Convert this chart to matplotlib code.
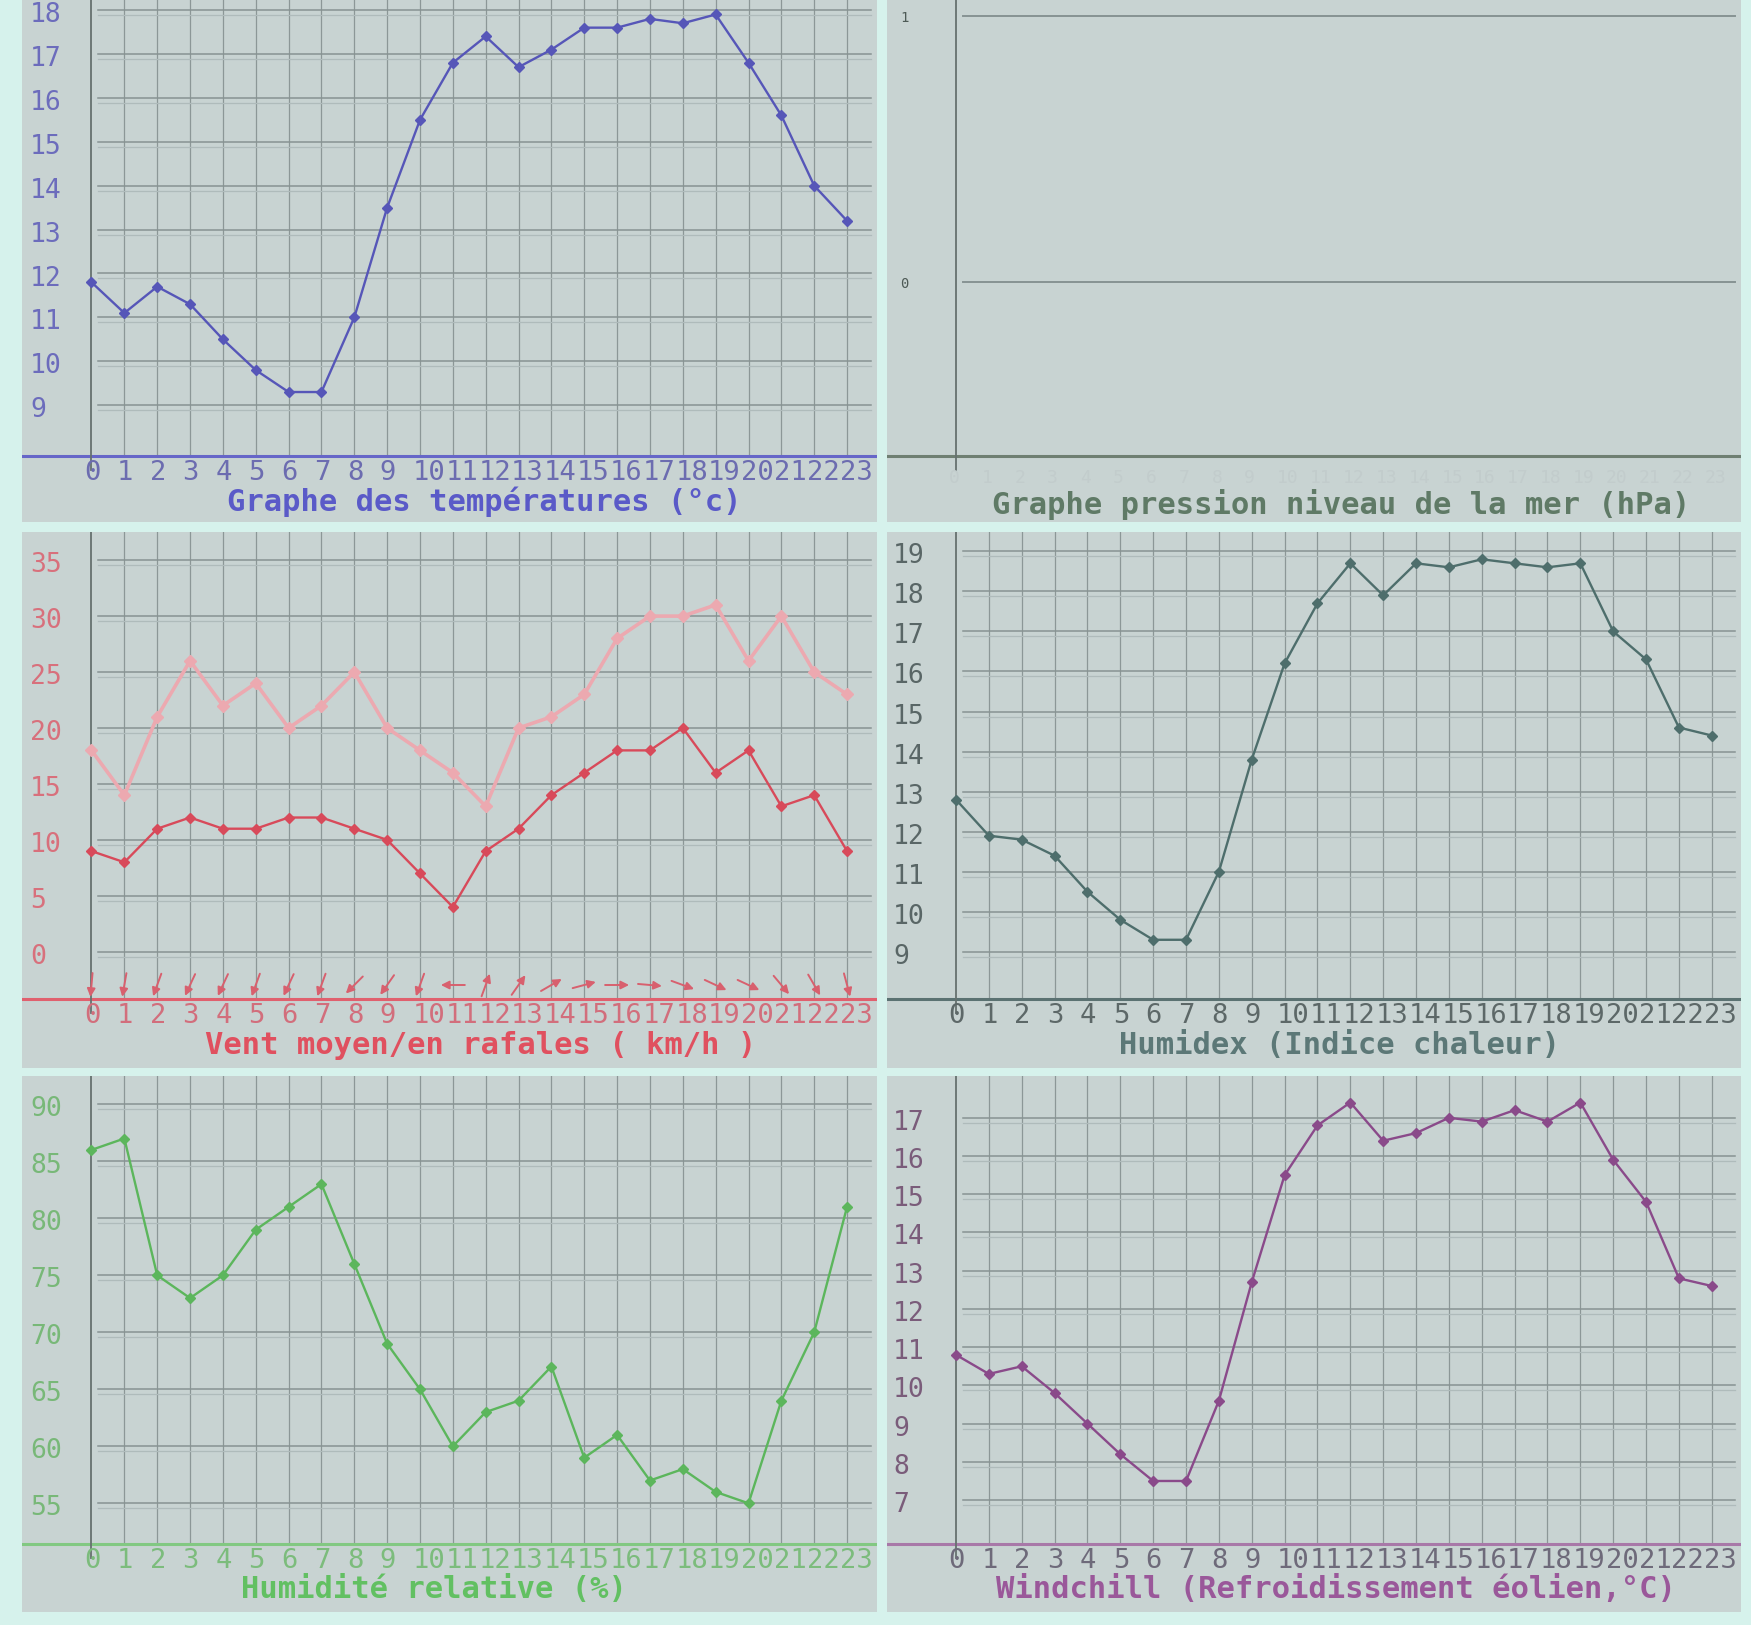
import math
import matplotlib
matplotlib.use("Agg")
import matplotlib.pyplot as plt
from matplotlib import transforms

# ---------------- data ----------------
hours = list(range(24))
hour_labels = [str(h) for h in hours]

temperature = [11.8, 11.1, 11.7, 11.3, 10.5, 9.8, 9.3, 9.3, 11.0, 13.5, 15.5, 16.8,
               17.4, 16.7, 17.1, 17.6, 17.6, 17.8, 17.7, 17.9, 16.8, 15.6, 14.0, 13.2]
temp_ticks = [9, 10, 11, 12, 13, 14, 15, 16, 17, 18]

pressure = []          # no pressure data in the source chart
pressure_ticks = [0, 1]

wind_mean = [9, 8, 11, 12, 11, 11, 12, 12, 11, 10, 7, 4,
             9, 11, 14, 16, 18, 18, 20, 16, 18, 13, 14, 9]
wind_gust = [18, 14, 21, 26, 22, 24, 20, 22, 25, 20, 18, 16,
             13, 20, 21, 23, 28, 30, 30, 31, 26, 30, 25, 23]
# direction the wind arrow points (degrees, 0 = east, 90 = north)
wind_dir = [-95, -100, -110, -115, -115, -110, -115, -110, -135, -125, -110, 180,
            70, 55, 30, 15, 0, -5, -20, -25, -25, -50, -60, -75]
wind_ticks = [0, 5, 10, 15, 20, 25, 30, 35]

humidex = [12.8, 11.9, 11.8, 11.4, 10.5, 9.8, 9.3, 9.3, 11.0, 13.8, 16.2, 17.7,
           18.7, 17.9, 18.7, 18.6, 18.8, 18.7, 18.6, 18.7, 17.0, 16.3, 14.6, 14.4]
humidex_ticks = [9, 10, 11, 12, 13, 14, 15, 16, 17, 18, 19]

humidity = [86, 87, 75, 73, 75, 79, 81, 83, 76, 69, 65, 60,
            63, 64, 67, 59, 61, 57, 58, 56, 55, 64, 70, 81]
humidity_ticks = [55, 60, 65, 70, 75, 80, 85, 90]

windchill = [10.8, 10.3, 10.5, 9.8, 9.0, 8.2, 7.5, 7.5, 9.6, 12.7, 15.5, 16.8,
             17.4, 16.4, 16.6, 17.0, 16.9, 17.2, 16.9, 17.4, 15.9, 14.8, 12.8, 12.6]
windchill_ticks = [7, 8, 9, 10, 11, 12, 13, 14, 15, 16, 17]

# ---------------- styling ----------------
W, H = 1751, 1625
FIG_BG = "#d6f2ec"
PANEL_BG = "#c8d3d2"
VGRID = "#8c9797"
HGRID = "#879393"
HGRID2 = "#afbbbb"
FONT = "DejaVu Sans Mono"
plt.rcParams["font.family"] = FONT

fig = plt.figure(figsize=(W / 100, H / 100), dpi=100)
fig.patch.set_facecolor(FIG_BG)


def make_panel(box, x0, xpp, vref, vref_px, ppu):
    l, t, r, b = box
    ax = fig.add_axes([l / W, 1 - b / H, (r - l) / W, (b - t) / H])
    ax.set_facecolor(PANEL_BG)
    for s in ax.spines.values():
        s.set_visible(False)
    ax.set_xticks([])
    ax.set_yticks([])
    ax.set_xlim((l - x0) / xpp, (r - x0) / xpp)
    ax.set_ylim(vref - (b - vref_px) / ppu, vref - (t - vref_px) / ppu)
    X = lambda px: (px - x0) / xpp
    Y = lambda py: vref - (py - vref_px) / ppu
    P = lambda v: vref_px - (v - vref) * ppu
    return ax, X, Y, P


def decorate(ax, X, Y, P, box, x0, axis_px, ticks, tick_color, hour_color,
             axis_color, title, title_color, title_cx, ylab_x, vgrid=True,
             ylab_size=19, ylab_dy=5, hgrid_start=7):
    l, t, r, b = box
    if vgrid:
        for h in hours[1:]:
            ax.plot([h, h], [Y(axis_px), Y(t)], color=VGRID, lw=0.9, zorder=1)
    for v in ticks:
        ax.plot([X(x0 + hgrid_start), X(r - 6)], [v, v], color=HGRID, lw=1.1, zorder=1)
        ax.plot([X(x0 + hgrid_start), X(r - 6)], [Y(P(v) + 5)] * 2, color=HGRID2,
                lw=0.9, zorder=1)
        ax.text(X(ylab_x), Y(P(v) + ylab_dy), str(v), ha="left", va="center",
                fontsize=ylab_size, color=tick_color, zorder=3)
    # axes lines
    ax.plot([X(l), X(r)], [Y(axis_px)] * 2, color=axis_color, lw=2.2, zorder=2)
    ax.plot([0, 0], [Y(t), Y(axis_px + 14)], color="#66716f", lw=1.3, zorder=2)
    off = transforms.offset_copy(ax.transData, fig=fig, x=-7.5, y=0, units="dots")
    for h, lab in zip(hours, hour_labels):
        ax.text(h, Y(axis_px + 17), lab, ha="left", va="center", fontsize=19.5,
                color=hour_color, transform=off, zorder=3)
    ax.text(X(title_cx), Y(axis_px + 46), title, ha="center", va="center",
            fontsize=22, fontweight="bold", color=title_color, zorder=3)


MK = dict(marker="D", markersize=5.5)

# ---- temperatures (top left) ----
box = (22, 0, 877, 522)
ax, X, Y, P = make_panel(box, 91.5, 32.85, 18, 10.1, 43.9)
decorate(ax, X, Y, P, box, 91.5, 456, temp_ticks, "#6c6cbc", "#6c6cb0", "#6666c8",
         "Graphe des températures (°c)", "#5a5ac8", 484, 30)
ax.plot(hours, temperature, color="#5656b8", lw=1.7, zorder=4, **MK)

# ---- pressure (top right) ----
box = (887, 0, 1741, 522)
ax, X, Y, P = make_panel(box, 956, 32.86, 1, 16, 266)
l, t, r, b = box
for v in pressure_ticks:
    ax.plot([X(956 + 7), X(r - 6)], [v, v], color=HGRID, lw=1.4, zorder=1)
    ax.text(X(900), Y(P(v) + 2), str(v), ha="left", va="center", fontsize=10,
            color="#4e5a56", zorder=3)
ax.plot([X(l), X(r)], [Y(456)] * 2, color="#6f7f72", lw=2.2, zorder=2)
ax.plot([0, 0], [Y(t), Y(470)], color="#66716f", lw=1.3, zorder=2)
off = transforms.offset_copy(ax.transData, fig=fig, x=-7.5, y=0, units="dots")
for h, lab in zip(hours, hour_labels):
    ax.text(h, Y(478), lab, ha="left", va="center", fontsize=13, color="#c2cccc",
            transform=off, zorder=3)
ax.text(X(1341), Y(504), "Graphe pression niveau de la mer (hPa)", ha="center",
        va="center", fontsize=22, fontweight="bold", color="#5f7a66", zorder=3)
if pressure:
    ax.plot(hours[:len(pressure)], pressure, color="#5f7a66", lw=1.7, **MK)

# ---- wind (middle left) ----
box = (22, 532, 877, 1068)
ax, X, Y, P = make_panel(box, 91.5, 32.85, 0, 951.8, 11.19)
decorate(ax, X, Y, P, box, 91.5, 999, wind_ticks, "#d8707c", "#d26e7c", "#e0606e",
         "Vent moyen/en rafales ( km/h )", "#e0505f", 481, 30)
ax.plot(hours, wind_gust, color="#eca9b0", lw=2.6, zorder=4, marker="D",
        markersize=6, markeredgecolor="#eca9b0")
ax.plot(hours, wind_mean, color="#d84a5a", lw=1.7, zorder=5, **MK)
L = 24.0
for h, a in zip(hours, wind_dir):
    dxp = L / 2 * math.cos(math.radians(a))
    dyp = L / 2 * math.sin(math.radians(a))
    yc = Y(985)
    ax.annotate("", xy=(h + dxp / 32.85, yc + dyp / 11.19),
                xytext=(h - dxp / 32.85, yc - dyp / 11.19),
                arrowprops=dict(arrowstyle="-|>", color="#d8606e", lw=1.4,
                                mutation_scale=12, shrinkA=0, shrinkB=0), zorder=4)

# ---- humidex (middle right) ----
box = (887, 532, 1741, 1068)
ax, X, Y, P = make_panel(box, 956, 32.86, 19, 551.3, 40.05)
decorate(ax, X, Y, P, box, 956, 999, humidex_ticks, "#596666", "#5d6868", "#5b7272",
         "Humidex (Indice chaleur)", "#5c7877", 1339, 893)
ax.plot(hours, humidex, color="#4e6e6c", lw=1.7, zorder=4, **MK)

# ---- humidity (bottom left) ----
box = (22, 1076, 877, 1612)
ax, X, Y, P = make_panel(box, 91.5, 32.85, 90, 1104.3, 11.40)
decorate(ax, X, Y, P, box, 91.5, 1543.6, humidity_ticks, "#78b878", "#7cbc7c", "#82c882",
         "Humidité relative (%)", "#62c062", 434, 30)
ax.plot(hours, humidity, color="#5cb65c", lw=1.7, zorder=4, **MK)

# ---- windchill (bottom right) ----
box = (887, 1076, 1741, 1612)
ax, X, Y, P = make_panel(box, 956, 32.86, 17, 1117.8, 38.23)
decorate(ax, X, Y, P, box, 956, 1543.6, windchill_ticks, "#7a5c7a", "#6e6a7a", "#a878a8",
         "Windchill (Refroidissement éolien,°C)", "#9a589a", 1336, 893)
ax.plot(hours, windchill, color="#8a4a8a", lw=1.7, zorder=4, **MK)

fig.savefig("out.png", dpi=100, facecolor=FIG_BG)
